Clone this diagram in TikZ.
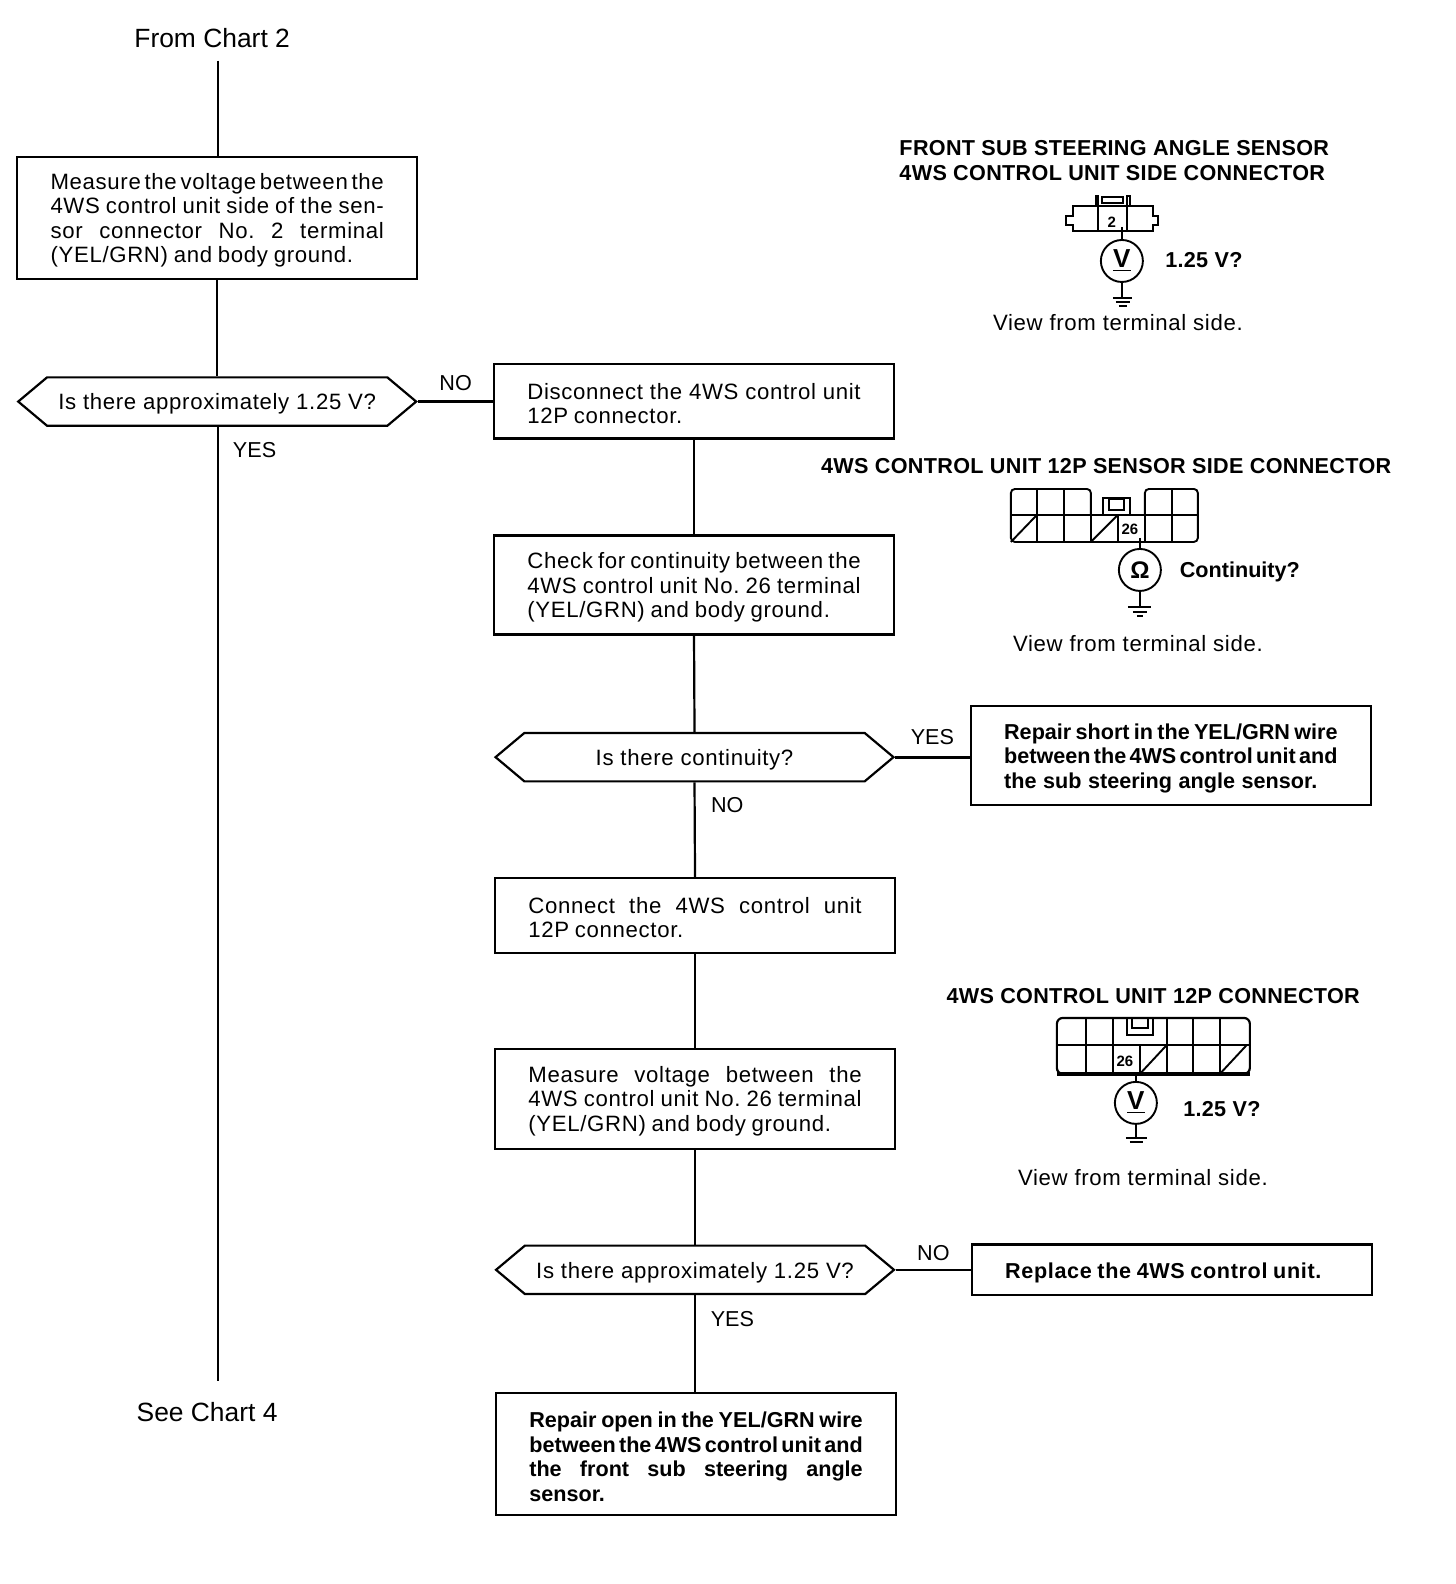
\documentclass[tikz,border=0pt]{standalone}
\usepackage{fontspec}
\setmainfont{Liberation Sans}
\newfontfamily\bodyf{Liberation Sans}[LetterSpace=3.0]
\newfontfamily\tightf{Liberation Sans}[WordSpace=0.5]
\newfontfamily\headf{Liberation Sans}[LetterSpace=1.5]
\usetikzlibrary{shapes.symbols}
\hbadness=10000 \hfuzz=20pt
\newcommand\jl[2][166.7pt]{\leavevmode\hbox to #1{\spaceskip=.2em plus 1.5em minus .1em \xspaceskip=\spaceskip #2}}
\tikzset{
  line/.style={draw=black,line width=1.1pt},
  wire/.style={draw=black,line width=0.95pt},
  txt/.style={font=\fontsize{11.1pt}{12.3pt}\bodyf\selectfont},
  bigt/.style={font=\fontsize{13.2pt}{14pt}\selectfont,inner sep=0pt},
  lab/.style={font=\fontsize{10.8pt}{12.3pt}\selectfont,inner sep=0pt},
  view/.style={font=\fontsize{11.1pt}{12.3pt}\bodyf\selectfont,inner sep=0pt},
  head/.style={font=\fontsize{10.8pt}{12.2pt}\headf\bfseries\selectfont,inner sep=0pt,align=left},
  boxn/.style={line,rectangle,minimum width=200pt,inner sep=0pt,text width=166.7pt,align=left,txt,execute at begin node={\spaceskip=.26em \xspaceskip=.26em \rule{0pt}{10.5pt}}},
  boxb/.style={boxn,font=\fontsize{10.8pt}{12.3pt}\tightf\bfseries\selectfont},
  boxc/.style={boxn,font=\fontsize{10.8pt}{12.3pt}\bodyf\bfseries\selectfont},
  chev/.style={line,signal,signal to=west and east,signal from=nowhere,signal pointer angle=80,minimum width=199pt,minimum height=24.2pt,inner sep=0pt,txt,execute at begin node={\rule{0pt}{10.5pt}}},
  meter/.style={draw=black,line width=0.95pt,circle,minimum size=21pt,inner sep=0pt},
  vm/.style={font=\fontsize{13pt}{13pt}\selectfont\bfseries},
  om/.style={font=\fontsize{12pt}{12pt}\selectfont\bfseries},
  small/.style={font=\fontsize{7.5pt}{8pt}\selectfont\bfseries,inner sep=0pt},
  val/.style={font=\fontsize{10.8pt}{12pt}\headf\bfseries\selectfont,inner sep=0pt},
}
\begin{document}
\begin{tikzpicture}[x=0.50515pt,y=-0.50515pt]
\useasboundingbox (0,0) rectangle (1441.2,1568);
\fill[white] (0,0) rectangle (1441.2,1568);
% main nodes
\node[bigt] (from) at (210,38) {From Chart 2};
\node[bigt] (see) at (205,1398) {See Chart 4};
\node[boxn,minimum height=61.1pt] (b1) at (215,215.5) {\jl{Measure the voltage between the}\\\jl{4WS control unit side of the sen-}\\\jl{sor connector No. 2 terminal}\\(YEL/GRN) and body ground.};
\node[chev] (d1) at (215,397.5) {Is there approximately 1.25 V?};
\node[boxn,minimum height=37.4pt] (b2) at (687,397) {\jl{Disconnect the 4WS control unit}\\12P connector.};
\node[boxn,minimum height=49.5pt] (b3) at (687,579) {\jl{Check for continuity between the}\\\jl{4WS control unit No. 26 terminal}\\(YEL/GRN) and body ground.};
\node[chev] (d2) at (687.5,749.5) {Is there continuity?};
\node[boxb,minimum height=49.5pt] (b4) at (1159,748) {\jl{Repair short in the YEL/GRN wire}\\\jl{between the 4WS control unit and}\\\jl[156.6pt]{the sub steering angle sensor.}};
\node[boxn,minimum height=37.4pt] (b5) at (688,906) {\jl{Connect the 4WS control unit}\\12P connector.};
\node[boxn,minimum height=50pt] (b6) at (688,1087.5) {\jl{Measure voltage between the}\\\jl{4WS control unit No. 26 terminal}\\(YEL/GRN) and body ground.};
\node[chev] (d3) at (688,1257) {Is there approximately 1.25 V?};
\node[boxc,minimum height=25.3pt] (b7) at (1160,1257) {Replace the 4WS control unit.};
\node[boxb,minimum height=61.1pt] (b8) at (689,1439.5) {\jl{Repair open in the YEL/GRN wire}\\\jl{between the 4WS control unit and}\\\jl{the front sub steering angle}\\sensor.};
% flow labels
\node[lab] (l1) at (451,379) {NO};
\node[lab] (l2) at (252,446) {YES};
\node[lab] (l3) at (923,730) {YES};
\node[lab] (l4) at (720,797) {NO};
\node[lab] (l5) at (924,1240) {NO};
\node[lab] (l6) at (725,1306) {YES};
% connectors
\coordinate (top) at (216,60);
\coordinate (bot) at (216,1367);
\draw[line] (top) -- (top |- b1.north);
\draw[line] (b1.south) -- (d1.north);
\draw[line] (d1.south -| bot) -- (bot);
\draw[line] (d1.east) -- (d1.east -| b2.west);
\draw[line] (b2.south) -- (b3.north);
\draw[line] (b3.south) -- (d2.north);
\draw[line,line width=1.4pt] (d2.east) -- (d2.east -| b4.west);
\draw[line] (d2.south) -- (b5.north);
\draw[line] (b5.south) -- (b6.north);
\draw[line] (b6.south) -- (d3.north);
\draw[line] (d3.east) -- (b7.west);
\draw[line] (d3.south) -- (d3.south |- b8.north);
% headings (view coordinates)
\node[head,anchor=west] (h1) at (890,147) {FRONT SUB STEERING ANGLE SENSOR};
\node[head,anchor=west] (h2) at (890,171) {4WS CONTROL UNIT SIDE CONNECTOR};
\node[head] (h3) at (1095,461) {4WS CONTROL UNIT 12P SENSOR SIDE CONNECTOR};
\node[head] (h4) at (1141.5,986) {4WS CONTROL UNIT 12P CONNECTOR};
% icons in true pixels
\begin{scope}[x=0.5pt,y=-0.5pt]
  % icon 1
  \draw[wire] (1073,206) -- (1153,206) -- (1153,216) -- (1158,216) -- (1158,225) -- (1153,225) -- (1153,231) -- (1073,231) -- (1073,225) -- (1066,225) -- (1066,216) -- (1073,216) -- cycle;
  \draw[wire] (1098,206) -- (1098,231) (1127,206) -- (1127,231);
  \draw[wire] (1096,206) -- (1096,196) -- (1098,196) -- (1098,206) (1127,206) -- (1127,196) -- (1130,196) -- (1130,206);
  \draw[wire] (1102,197) rectangle (1123,203);
  \node[small] (t1) at (1112,222) {2};
  \coordinate (c1) at (1122,227);
  \node[meter,vm] (m1) at (1122,261) {\underline{V}};
  \coordinate (g1) at (1122,298);
  \draw[wire] (c1) -- (m1.north);
  \draw[wire] (m1.south) -- (g1);
  \draw[wire] (1113,298) -- (1132,298) (1116,302) -- (1130,302) (1119,306) -- (1127,306);
  \node[val] (v1) at (1204,260) {1.25 V?};
  \node[view] (w1) at (1118,323) {View from terminal side.};
  % icon 2
  \draw[wire,rounded corners=2pt] (1091,515) -- (1091,489) -- (1011,489) -- (1011,542) -- (1198,542) -- (1198,489) -- (1145,489) -- (1145,515);
  \draw[wire] (1011,515) -- (1198,515);
  \draw[wire] (1037,489) -- (1037,542) (1064,489) -- (1064,542) (1091,515) -- (1091,542) (1118,515) -- (1118,542) (1145,515) -- (1145,542) (1172,489) -- (1172,542);
  \draw[wire] (1103,515) -- (1103,498) -- (1130,498) -- (1130,515);
  \draw[wire] (1109,499) rectangle (1124,510);
  \draw[wire] (1011,542) -- (1037,515) (1091,542) -- (1118,515);
  \node[small] (t2) at (1130,529) {26};
  \coordinate (c2) at (1140,538);
  \node[meter,om] (m2) at (1140,570) {Ω};
  \coordinate (g2) at (1140,607);
  \draw[wire] (c2) -- (m2.north);
  \draw[wire] (m2.south) -- (g2);
  \draw[line width=1.2pt] (1128,607) -- (1151,607) (1133,612) -- (1147,612) (1137,616) -- (1143,616);
  \node[font=\fontsize{10.8pt}{12pt}\selectfont\bfseries,inner sep=0pt] (v2) at (1240,572) {Continuity?};
  \node[view] (w2) at (1138,644) {View from terminal side.};
  % icon 3
  \draw[wire,line width=1.1pt,rounded corners=3pt] (1057,1074) -- (1057,1018) -- (1250,1018) -- (1250,1074) -- cycle;
  \draw[line width=1.7pt] (1057,1074) -- (1250,1074);
  \draw[wire] (1057,1045) -- (1250,1045);
  \draw[wire] (1086,1018) -- (1086,1074) (1113,1018) -- (1113,1074) (1167,1018) -- (1167,1074) (1193,1018) -- (1193,1074) (1220,1018) -- (1220,1074) (1140,1045) -- (1140,1074);
  \draw[wire] (1127,1018) -- (1127,1035) -- (1153,1035) -- (1153,1018);
  \draw[wire] (1132,1018) -- (1132,1028) -- (1148,1028) -- (1148,1018);
  \draw[wire] (1140,1074) -- (1167,1045) (1220,1074) -- (1247,1045);
  \node[small] (t3) at (1125,1061) {26};
  \coordinate (c3) at (1136,1074);
  \node[meter,vm] (m3) at (1136,1103) {\underline{V}};
  \coordinate (g3) at (1136,1138);
  \draw[wire] (c3) -- (m3.north);
  \draw[wire] (m3.south) -- (g3);
  \draw[line width=1.2pt] (1126,1138) -- (1147,1138) (1130,1142) -- (1143,1142);
  \node[val] (v3) at (1222,1109) {1.25 V?};
  \node[view] (w3) at (1143,1178) {View from terminal side.};
\end{scope}
\end{tikzpicture}
\end{document}
